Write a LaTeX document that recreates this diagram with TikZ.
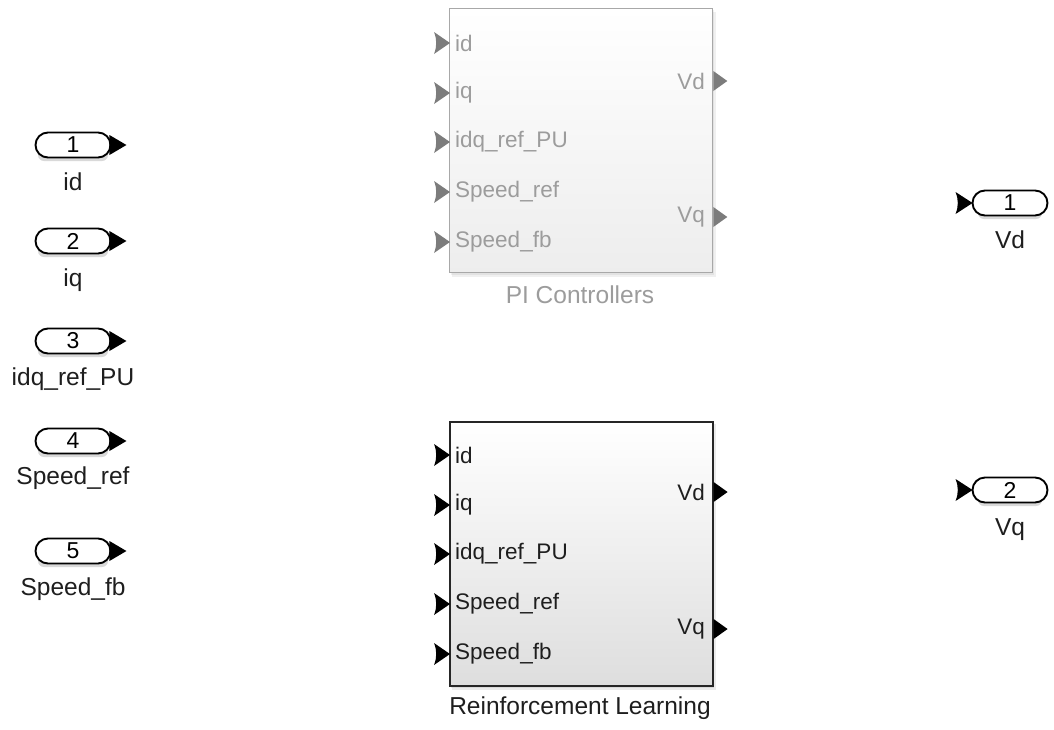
\documentclass[tikz,border=0pt]{standalone}
\usepackage{fontspec}
\setmainfont{Liberation Sans}
\definecolor{fadetext}{HTML}{9C9C9C}
\definecolor{fadeline}{HTML}{A8A8A8}
\definecolor{fadeport}{HTML}{7C7C7C}
\definecolor{darktext}{HTML}{1E1E1E}
\begin{document}
\begin{tikzpicture}[x=1pt,y=-1pt,
  portoval/.style={draw=black, line width=1.9pt, rectangle, rounded corners=12.5pt, minimum width=75pt,
    minimum height=25pt, inner sep=0pt, fill=white, font=\fontsize{23}{23}\selectfont},
  portname/.style={font=\fontsize{24.5}{24.5}\selectfont, text=darktext, inner sep=0pt},
  blk/.style={anchor=north west, minimum width=263pt, minimum height=264pt, inner sep=0pt},
  pinlabel/.style={font=\fontsize{22.5}{22.5}\selectfont, inner sep=0pt},
  blkname/.style={font=\fontsize{24.5}{24.5}\selectfont, inner sep=0pt}
]
\useasboundingbox (0,0) rectangle (1054,729);

% ---------- Inports ----------
\foreach \n/\y/\lab/\ly in {1/145/id/182, 2/241/iq/280, 3/341/idq\_ref\_PU/379, 4/441/Speed\_ref/478, 5/551/Speed\_fb/589}{
  \fill[black, opacity=0.15, rounded corners=6pt] (38,\y+5) rectangle (108,\y+16);
  \node[portoval] (in\n) at (73,\y) {\n};
  \fill[black] (in\n.east) ++(-2,-10) -- ++(17,10) -- ++(-17,10) -- cycle;
  \node[portname] (inl\n) at (73,\ly) {\lab};
}

% ---------- Outports ----------
\foreach \n/\y/\lab/\ly in {1/203/Vd/240, 2/490/Vq/530}{
  \fill[black, opacity=0.15, rounded corners=6pt] (978,\y+5) rectangle (1042,\y+16);
  \node[portoval] (out\n) at (1010,\y) {\n};
  \fill[black] (out\n.west) ++(1,0) -- ++(-17,-11) .. controls ++(3,8) and ++(3,-8) .. ++(0,22) -- cycle;
  \node[portname] (outl\n) at (1010,\ly) {\lab};
}

% ---------- PI Controllers block ----------
\fill[black, opacity=0.06] (452,12) rectangle (716,277);
\fill[black, opacity=0.06] (451,10) rectangle (714,275);
\node[blk, draw=fadeline, line width=1.3pt, top color=white, bottom color=black!7] (pi) at (449,8) {};
\foreach \y/\lab [count=\i] in {43/id, 93/iq, 142/idq\_ref\_PU, 192/Speed\_ref, 242/Speed\_fb}{
  \node[pinlabel, text=fadetext, anchor=west] (pii\i) at (455,\y) {\lab};
  \fill[fadeport] (pi.west |- pii\i) ++(1,0) -- ++(-16,-11) .. controls ++(3,8) and ++(3,-8) .. ++(0,22) -- cycle;
}
\foreach \y/\lab [count=\i] in {81/Vd, 217/Vq}{
  \node[pinlabel, text=fadetext, anchor=east] (pio\i) at (705,\y) {\lab};
  \fill[fadeport] (pi.east |- pio\i) ++(0,-10) -- ++(14,10) -- ++(-14,10) -- cycle;
}
\node[blkname, text=fadetext] (pilab) at (580,295) {PI Controllers};

% ---------- Reinforcement Learning block ----------
\fill[black, opacity=0.08] (452,424) rectangle (716,690);
\fill[black, opacity=0.08] (451,422) rectangle (714,688);
\node[blk, draw=black!85, line width=1.6pt, top color=white, bottom color=black!13] (rl) at (449,421) {};
\foreach \y/\lab [count=\i] in {455/id, 505/iq, 554/idq\_ref\_PU, 604/Speed\_ref, 654/Speed\_fb}{
  \node[pinlabel, text=darktext, anchor=west] (rli\i) at (455,\y) {\lab};
  \fill[black] (rl.west |- rli\i) ++(1,0) -- ++(-16,-11) .. controls ++(3,8) and ++(3,-8) .. ++(0,22) -- cycle;
}
\foreach \y/\lab [count=\i] in {492/Vd, 629/Vq}{
  \node[pinlabel, text=darktext, anchor=east] (rlo\i) at (705,\y) {\lab};
  \fill[black] (rl.east |- rlo\i) ++(0,-10) -- ++(14,10) -- ++(-14,10) -- cycle;
}
\node[blkname, text=darktext] (rllab) at (580,708) {Reinforcement Learning};
\end{tikzpicture}
\end{document}
